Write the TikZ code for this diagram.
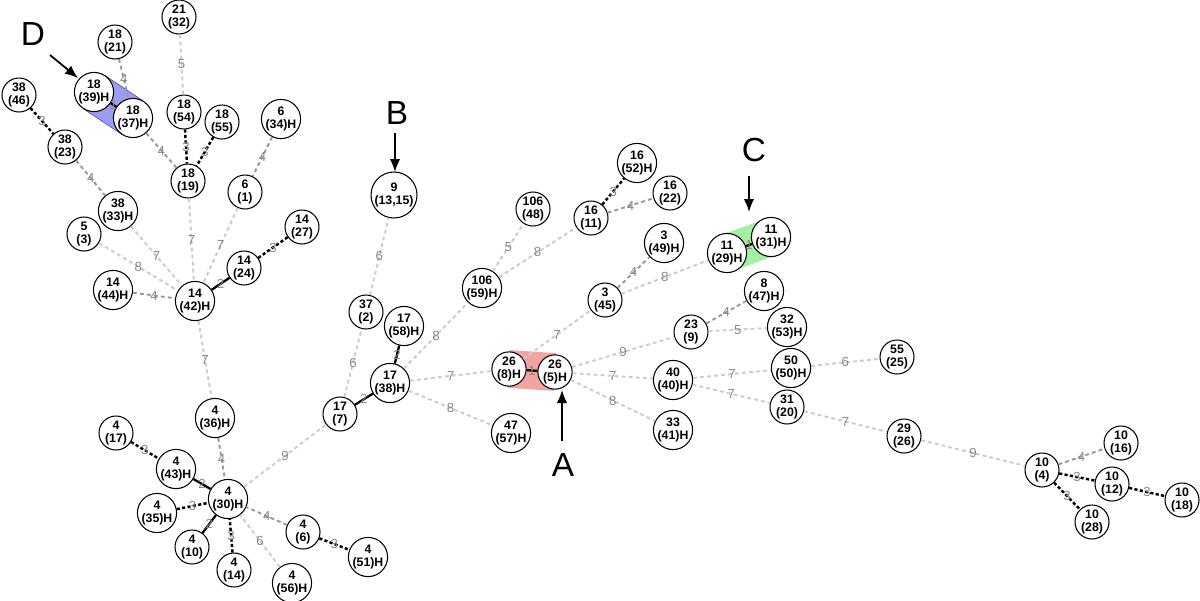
\documentclass[tikz,border=0pt]{standalone}
\usepackage{fontspec}
\setmainfont{Liberation Sans}
\usetikzlibrary{arrows.meta,backgrounds}
\definecolor{farc}{HTML}{CCCCCC}
\definecolor{midc}{HTML}{999999}
\definecolor{labc}{HTML}{888888}
\definecolor{blueband}{HTML}{9C9CF0}
\definecolor{blueedge}{HTML}{5A5AC8}
\definecolor{redband}{HTML}{F4A3A3}
\definecolor{greenband}{HTML}{A3F0A3}

\begin{document}
\begin{tikzpicture}[
		st/.style={circle, draw, fill=white, line width=0.6pt, minimum size=6.8mm, inner sep=0pt, align=center, font=\fontsize{7}{7.6}\selectfont\bfseries},
		bigst/.style={st, minimum size=9.2mm},
		dfar/.style={draw=farc, line width=1.1pt, dash pattern=on 2.2pt off 1.8pt},
		dmid/.style={draw=midc, line width=1.1pt, dash pattern=on 2.2pt off 1.8pt},
		dnear/.style={draw=black, line width=1.4pt, dash pattern=on 1.8pt off 1.3pt},
		dtie/.style={draw=black, line width=1.3pt},
		elab/.style={midway, inner sep=0pt, text=labc, font=\fontsize{7.5}{8}\selectfont},
		letter/.style={font=\fontsize{19}{19}\selectfont},
		pointer/.style={line width=1pt, -{Latex[length=2.6mm,width=2.1mm]}}
	]
		\useasboundingbox (0,0) rectangle (24,-12);

		% top left group
		\node[st] (n21c32) at (3.58,-0.34) {21\\(32)};
		\node[st] (n18c21) at (2.30,-0.84) {18\\(21)};
		\node[st] (n18c39) at (1.88,-1.84) {18\\(39)H};
		\node[st] (n18c37) at (2.66,-2.36) {18\\(37)H};
		\node[st] (n38c46) at (0.38,-1.90) {38\\(46)};
		\node[st] (n38c23) at (1.30,-2.94) {38\\(23)};
		\node[st] (n18c54) at (3.68,-2.24) {18\\(54)};
		\node[st] (n18c55) at (4.44,-2.44) {18\\(55)};
		\node[st] (n6c34) at (5.62,-2.38) {6\\(34)H};
		\node[st] (n18c19) at (3.76,-3.62) {18\\(19)};
		\node[st] (n6c1) at (4.90,-3.84) {6\\(1)};
		\node[st] (n38c33) at (2.36,-4.22) {38\\(33)H};
		\node[st] (n5c3) at (1.68,-4.68) {5\\(3)};
		\node[st] (n14c27) at (6.04,-4.54) {14\\(27)};
		\node[st] (n14c24) at (4.88,-5.36) {14\\(24)};
		\node[st] (n14c44) at (2.26,-5.80) {14\\(44)H};
		\node[st] (n14c42) at (3.90,-6.02) {14\\(42)H};

		% bottom left group
		\node[st] (n4c36) at (4.30,-8.36) {4\\(36)H};
		\node[st] (n4c17) at (2.32,-8.66) {4\\(17)};
		\node[st] (n4c43) at (3.52,-9.38) {4\\(43)H};
		\node[st] (n4c30) at (4.56,-9.98) {4\\(30)H};
		\node[st] (n4c35) at (3.14,-10.26) {4\\(35)H};
		\node[st] (n4c10) at (3.84,-10.94) {4\\(10)};
		\node[st] (n4c14) at (4.68,-11.40) {4\\(14)};
		\node[st] (n4c56) at (5.84,-11.66) {4\\(56)H};
		\node[st] (n4c6) at (6.06,-10.64) {4\\(6)};
		\node[st] (n4c51) at (7.36,-11.14) {4\\(51)H};

		% middle
		\node[bigst] (n9c13) at (7.88,-3.90) {9\\(13,15)};
		\node[st] (n37c2) at (7.32,-6.24) {37\\(2)};
		\node[st] (n17c58) at (8.08,-6.52) {17\\(58)H};
		\node[st] (n17c38) at (7.80,-7.66) {17\\(38)H};
		\node[st] (n17c7) at (6.80,-8.28) {17\\(7)};
		\node[st] (n106c48) at (10.66,-4.18) {106\\(48)};
		\node[st] (n106c59) at (9.64,-5.76) {106\\(59)H};
		\node[st] (n16c11) at (11.82,-4.36) {16\\(11)};
		\node[st] (n16c52) at (12.74,-3.26) {16\\(52)H};
		\node[st] (n16c22) at (13.40,-3.86) {16\\(22)};
		\node[st] (n3c49) at (13.28,-4.86) {3\\(49)H};
		\node[st] (n3c45) at (12.10,-6.00) {3\\(45)};
		\node[st] (n11c29) at (14.54,-5.06) {11\\(29)H};
		\node[st] (n11c31) at (15.42,-4.74) {11\\(31)H};
		\node[st] (n26c8) at (10.18,-7.38) {26\\(8)H};
		\node[st] (n26c5) at (11.10,-7.44) {26\\(5)H};
		\node[st] (n47c57) at (10.22,-8.66) {47\\(57)H};

		% right
		\node[st] (n8c47) at (15.28,-5.82) {8\\(47)H};
		\node[st] (n23c9) at (13.82,-6.64) {23\\(9)};
		\node[st] (n32c53) at (15.74,-6.54) {32\\(53)H};
		\node[st] (n40c40) at (13.46,-7.60) {40\\(40)H};
		\node[st] (n50c50) at (15.82,-7.36) {50\\(50)H};
		\node[st] (n55c25) at (17.94,-7.14) {55\\(25)};
		\node[st] (n31c20) at (15.74,-8.14) {31\\(20)};
		\node[st] (n33c41) at (13.46,-8.60) {33\\(41)H};
		\node[st] (n29c26) at (18.08,-8.72) {29\\(26)};
		\node[st] (n10c4) at (20.84,-9.40) {10\\(4)};
		\node[st] (n10c16) at (22.42,-8.86) {10\\(16)};
		\node[st] (n10c12) at (22.24,-9.68) {10\\(12)};
		\node[st] (n10c18) at (23.64,-10.00) {10\\(18)};
		\node[st] (n10c28) at (21.84,-10.44) {10\\(28)};

		% highlighted pairs
		\begin{scope}[on background layer, line cap=round]
			\draw[blueedge, line width=23pt] (n18c39.center) -- (n18c37.center);
			\draw[blueband, line width=22pt] (n18c39.center) -- (n18c37.center);
			\draw[redband, line width=21.5pt] (n26c8.center) -- (n26c5.center);
			\draw[greenband, line width=21.5pt] (n11c29.center) -- (n11c31.center);
		\end{scope}

		% links
		\draw[dmid] (n18c21) -- node[elab]{4} (n18c37);
		\draw[dtie] (n18c39) -- node[elab]{1} (n18c37);
		\draw[dmid] (n18c37) -- node[elab]{4} (n18c19);
		\draw[dnear] (n38c46) -- node[elab]{3} (n38c23);
		\draw[dmid] (n38c23) -- node[elab]{4} (n38c33);
		\draw[dfar] (n21c32) -- node[elab]{5} (n18c54);
		\draw[dnear] (n18c54) -- node[elab]{3} (n18c19);
		\draw[dnear] (n18c55) -- node[elab]{3} (n18c19);
		\draw[dmid] (n6c34) -- node[elab]{4} (n6c1);
		\draw[dfar] (n18c19) -- node[elab]{7} (n14c42);
		\draw[dfar] (n6c1) -- node[elab]{7} (n14c42);
		\draw[dfar] (n38c33) -- node[elab]{7} (n14c42);
		\draw[dfar] (n5c3) -- node[elab]{8} (n14c42);
		\draw[dmid] (n14c44) -- node[elab]{4} (n14c42);
		\draw[dtie] (n14c24) -- node[elab]{2} (n14c42);
		\draw[dnear] (n14c24) -- node[elab]{3} (n14c27);
		\draw[dfar] (n14c42) -- node[elab]{7} (n4c36);

		\draw[dmid] (n4c36) -- node[elab]{4} (n4c30);
		\draw[dnear] (n4c17) -- node[elab]{3} (n4c43);
		\draw[dtie] (n4c43) -- node[elab]{2} (n4c30);
		\draw[dnear] (n4c35) -- node[elab]{3} (n4c30);
		\draw[dtie] (n4c10) -- node[elab]{2} (n4c30);
		\draw[dnear] (n4c14) -- node[elab]{3} (n4c30);
		\draw[dfar] (n4c56) -- node[elab]{6} (n4c30);
		\draw[dmid] (n4c6) -- node[elab]{4} (n4c30);
		\draw[dnear] (n4c6) -- node[elab]{3} (n4c51);
		\draw[dfar] (n4c30) -- node[elab]{9} (n17c7);

		\draw[dtie] (n17c7) -- node[elab]{2} (n17c38);
		\draw[dfar] (n17c7) -- node[elab]{6} (n37c2);
		\draw[dfar] (n37c2) -- node[elab]{6} (n9c13);
		\draw[dtie] (n17c38) -- node[elab]{2} (n17c58);
		\draw[dfar] (n17c38) -- node[elab]{8} (n106c59);
		\draw[dfar] (n17c38) -- node[elab]{7} (n26c8);
		\draw[dfar] (n17c38) -- node[elab]{8} (n47c57);
		\draw[dfar] (n106c59) -- node[elab]{5} (n106c48);
		\draw[dfar] (n106c59) -- node[elab]{8} (n16c11);
		\draw[dnear] (n16c11) -- node[elab]{3} (n16c52);
		\draw[dmid] (n16c11) -- node[elab]{4} (n16c22);
		\draw[dtie] (n26c8) -- node[elab]{1} (n26c5);
		\draw[dfar] (n26c8) -- node[elab]{7} (n3c45);
		\draw[dmid] (n3c45) -- node[elab]{4} (n3c49);
		\draw[dfar] (n3c45) -- node[elab]{8} (n11c29);
		\draw[dtie] (n11c29) -- node[elab]{1} (n11c31);

		\draw[dfar] (n26c5) -- node[elab]{9} (n23c9);
		\draw[dmid] (n23c9) -- node[elab]{4} (n8c47);
		\draw[dfar] (n23c9) -- node[elab]{5} (n32c53);
		\draw[dfar] (n26c5) -- node[elab]{7} (n40c40);
		\draw[dfar] (n26c5) -- node[elab]{8} (n33c41);
		\draw[dfar] (n40c40) -- node[elab]{7} (n50c50);
		\draw[dfar] (n50c50) -- node[elab]{6} (n55c25);
		\draw[dfar] (n40c40) -- node[elab]{7} (n31c20);
		\draw[dfar] (n31c20) -- node[elab]{7} (n29c26);
		\draw[dfar] (n29c26) -- node[elab]{9} (n10c4);
		\draw[dmid] (n10c4) -- node[elab]{4} (n10c16);
		\draw[dnear] (n10c4) -- node[elab]{3} (n10c12);
		\draw[dnear] (n10c12) -- node[elab]{3} (n10c18);
		\draw[dnear] (n10c4) -- node[elab]{3} (n10c28);

		% markers
		\node[letter] (lblD) at (0.66,-0.68) {D};
		\node[letter] (lblB) at (7.94,-2.26) {B};
		\node[letter] (lblC) at (15.08,-3.00) {C};
		\node[letter] (lblA) at (11.26,-9.30) {A};
		\coordinate (tailD) at (1.00,-1.10);
		\coordinate (headD) at (1.56,-1.56);
		\coordinate (tailB) at (7.90,-2.66);
		\coordinate (headB) at (7.90,-3.44);
		\coordinate (tailC) at (14.98,-3.52);
		\coordinate (headC) at (14.98,-4.24);
		\coordinate (tailA) at (11.24,-8.82);
		\coordinate (headA) at (11.24,-7.80);
		\draw[pointer] (tailD) -- (headD);
		\draw[pointer] (tailB) -- (headB);
		\draw[pointer] (tailC) -- (headC);
		\draw[pointer] (tailA) -- (headA);
\end{tikzpicture}
\end{document}
